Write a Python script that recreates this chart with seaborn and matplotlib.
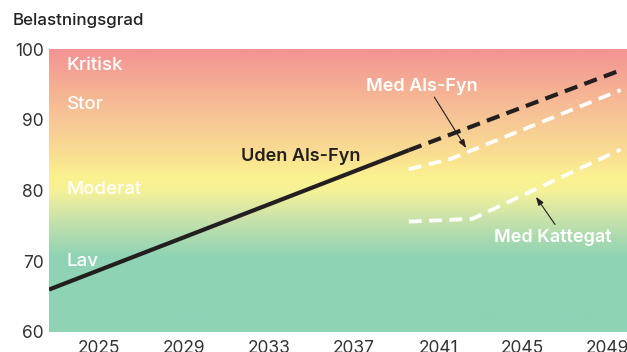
import numpy as np
import pandas as pd
import matplotlib
matplotlib.use("Agg")
import matplotlib.pyplot as plt
import matplotlib.transforms as mtransforms
from matplotlib.colors import LinearSegmentedColormap
import seaborn as sns

# Belastningsgrad scenarios
uden_years = [2023, 2040]
uden_values = [66.0, 85.7]
uden_proj_years = [2040, 2050]
uden_proj_values = [85.7, 97.0]
als_fyn_years = [2040, 2042, 2050]
als_fyn_values = [83.0, 84.5, 94.2]
kattegat_years = [2040, 2043, 2050]
kattegat_values = [75.6, 76.0, 85.8]

x_ticks = [2025, 2029, 2033, 2037, 2041, 2045, 2049]
y_ticks = [60, 70, 80, 90, 100]
zone_labels = ["Kritisk", "Stor", "Moderat", "Lav"]
zone_levels = [97.6, 92.1, 80.1, 70.0]

sns.set_style("white")
plt.rcParams["font.family"] = ["Inter", "DejaVu Sans"]

fig = plt.figure(figsize=(6.27, 3.52), dpi=100)
ax = fig.add_axes([49 / 627, 20 / 352, 578 / 627, 283 / 352])

xmin, xmax = 2023.0, 2050.3
ymin, ymax = 60, 100

# vertical colour gradient for the load zones
stops = [
    (60, "#8ED3B4"), (70.5, "#8ED3B4"), (73, "#A8DAB0"), (76.5, "#CFE4A8"),
    (80, "#F6F297"), (82, "#FBF190"), (86, "#F9DA92"), (90, "#F7C796"),
    (95, "#F5AE93"), (100, "#F39394"),
]
cmap = LinearSegmentedColormap.from_list(
    "zones", [((v - ymin) / (ymax - ymin), c) for v, c in stops])
grad = np.linspace(0, 1, 400).reshape(-1, 1)
ax.imshow(grad, extent=(xmin, xmax, ymin, ymax), origin="lower",
          aspect="auto", cmap=cmap, zorder=0)

dark = "#231F20"
sns.lineplot(x=uden_years, y=uden_values, ax=ax, color=dark, lw=3.0,
             solid_capstyle="butt", zorder=3)
sns.lineplot(x=uden_proj_years, y=uden_proj_values, ax=ax, color=dark, lw=3.0,
             zorder=3).lines[-1].set_dashes((3.2, 1.8))
sns.lineplot(x=als_fyn_years, y=als_fyn_values, ax=ax, color="white", lw=2.7,
             zorder=3).lines[-1].set_dashes((3.4, 2.0))
sns.lineplot(x=kattegat_years, y=kattegat_values, ax=ax, color="white", lw=2.7,
             zorder=3).lines[-1].set_dashes((3.4, 2.0))

for lab, lvl in zip(zone_labels, zone_levels):
    ax.text(2023.85, lvl, lab, color="white", fontsize=13.5, va="center",
            ha="left", fontweight="medium", zorder=4)

ax.text(2034.9, 84.8, "Uden Als-Fyn", color=dark, fontsize=13,
        fontweight="semibold", ha="center", va="center", zorder=4)
ax.text(2040.6, 94.75, "Med Als-Fyn", color="white", fontsize=13,
        fontweight="semibold", ha="center", va="center", zorder=4)
ax.text(2046.8, 73.3, "Med Kattegat", color="white", fontsize=13,
        fontweight="semibold", ha="center", va="center", zorder=4)

arrow = dict(arrowstyle="-|>,head_length=0.5,head_width=0.18", color=dark,
             lw=0.8, shrinkA=0, shrinkB=0)
ax.annotate("", xy=(2042.7, 86.0), xytext=(2041.2, 93.2), arrowprops=arrow,
            zorder=5)
ax.annotate("", xy=(2046.0, 79.1), xytext=(2046.9, 75.2), arrowprops=arrow,
            zorder=5)

ax.set_xlim(xmin, xmax)
ax.set_ylim(ymin, ymax)
ax.set_xticks(x_ticks)
ax.set_yticks(y_ticks)
ax.set_xticklabels([str(t) for t in x_ticks])
ax.set_yticklabels([str(t) for t in y_ticks])
ax.tick_params(axis="both", length=0, labelsize=12.5, labelcolor="#333333")
ax.tick_params(axis="x", pad=6)
ax.tick_params(axis="y", pad=4)
shift = mtransforms.ScaledTranslation(8 / 100, 0, fig.dpi_scale_trans)
for lab in ax.get_xticklabels():
    lab.set_transform(lab.get_transform() + shift)
for s in ax.spines.values():
    s.set_visible(False)
ax.set_xlabel("")
ax.set_ylabel("")

fig.text(13 / 627, 1 - 20 / 352, "Belastningsgrad", fontsize=12.2,
         fontweight="medium", color="#222222", ha="left", va="center")

fig.savefig("out.png", dpi=100)
